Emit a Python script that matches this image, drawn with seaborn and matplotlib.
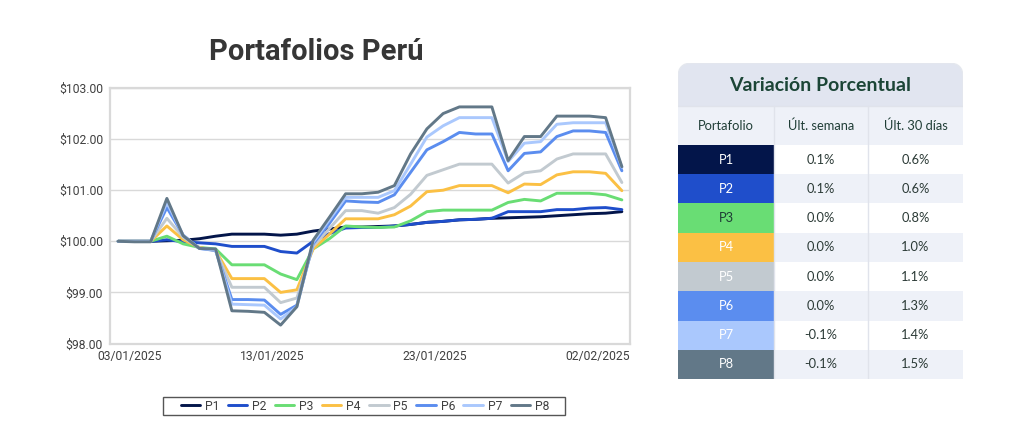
import numpy as np
import pandas as pd
import matplotlib
matplotlib.use("Agg")
import matplotlib.pyplot as plt
import matplotlib.dates as mdates
import matplotlib.transforms as mtransforms
from matplotlib.ticker import StrMethodFormatter
from matplotlib.patches import FancyBboxPatch, Rectangle
import seaborn as sns

# daily values (weekends carried forward), 03/01/2025 .. 03/02/2025
dates = pd.date_range("2025-01-03", "2025-02-03", freq="D")
portfolios = ["P1", "P2", "P3", "P4", "P5", "P6", "P7", "P8"]
colors = ["#03154a", "#1f4ecb", "#69dd74", "#fbc044", "#c2cad0", "#5b8def", "#aac8fd", "#627888"]

p1 = [100.00, 100.00, 100.00, 100.01, 100.02, 100.05, 100.10, 100.14, 100.14, 100.14, 100.12, 100.14,
      100.20, 100.24, 100.28, 100.28, 100.29, 100.30, 100.33, 100.37, 100.39, 100.42, 100.43, 100.45,
      100.46, 100.47, 100.48, 100.50, 100.52, 100.54, 100.55, 100.58]
p2 = [100.00, 100.00, 100.00, 100.03, 99.99, 99.97, 99.95, 99.90, 99.90, 99.90, 99.80, 99.77,
      100.00, 100.15, 100.26, 100.27, 100.27, 100.30, 100.33, 100.37, 100.39, 100.42, 100.43, 100.45,
      100.58, 100.58, 100.58, 100.62, 100.62, 100.65, 100.66, 100.62]
p3 = [100.00, 100.00, 100.00, 100.10, 99.95, 99.88, 99.85, 99.54, 99.54, 99.54, 99.36, 99.25,
      99.85, 100.05, 100.30, 100.28, 100.27, 100.28, 100.40, 100.58, 100.61, 100.61, 100.61, 100.61,
      100.76, 100.82, 100.79, 100.94, 100.94, 100.94, 100.91, 100.81]
p4 = [100.00, 100.00, 100.00, 100.30, 100.03, 99.88, 99.82, 99.27, 99.27, 99.27, 99.00, 99.05,
      99.85, 100.14, 100.44, 100.44, 100.44, 100.52, 100.69, 100.97, 101.00, 101.09, 101.09, 101.09,
      100.95, 101.12, 101.11, 101.30, 101.36, 101.36, 101.33, 100.99]
p5 = [100.00, 100.00, 100.00, 100.45, 100.08, 99.87, 99.82, 99.10, 99.10, 99.10, 98.80, 98.89,
      99.90, 100.25, 100.60, 100.60, 100.55, 100.66, 100.92, 101.29, 101.40, 101.51, 101.51, 101.51,
      101.14, 101.34, 101.38, 101.61, 101.71, 101.71, 101.71, 101.15]
p6 = [100.00, 100.00, 100.00, 100.66, 100.12, 99.86, 99.82, 98.86, 98.86, 98.85, 98.57, 98.75,
      99.95, 100.35, 100.79, 100.77, 100.76, 100.91, 101.35, 101.79, 101.95, 102.13, 102.10, 102.10,
      101.38, 101.72, 101.75, 102.05, 102.16, 102.16, 102.13, 101.38]
p7 = [100.00, 100.00, 100.00, 100.76, 100.12, 99.86, 99.83, 98.77, 98.76, 98.75, 98.48, 98.72,
      99.98, 100.42, 100.86, 100.86, 100.86, 100.99, 101.51, 102.04, 102.26, 102.42, 102.42, 102.42,
      101.56, 101.92, 101.95, 102.29, 102.32, 102.32, 102.32, 101.45]
p8 = [100.00, 99.99, 99.99, 100.84, 100.11, 99.86, 99.85, 98.64, 98.63, 98.61, 98.36, 98.72,
      100.02, 100.47, 100.93, 100.93, 100.96, 101.09, 101.71, 102.20, 102.50, 102.63, 102.63, 102.63,
      101.58, 102.05, 102.05, 102.45, 102.45, 102.45, 102.42, 101.46]

tick_dates = pd.to_datetime(["2025-01-03", "2025-01-13", "2025-01-23", "2025-02-02"])

# table values (%)
weekly = [0.1, 0.1, 0.0, 0.0, 0.0, 0.0, -0.1, -0.1]
monthly = [0.6, 0.6, 0.8, 1.0, 1.1, 1.3, 1.4, 1.5]
table_cols = ["Portafolio", "Últ. semana", "Últ. 30 días"]

sns.set_theme(style="white")
plt.rcParams["font.family"] = ["Roboto", "DejaVu Sans"]

df = pd.DataFrame({"Fecha": dates, "P1": p1, "P2": p2, "P3": p3, "P4": p4,
                   "P5": p5, "P6": p6, "P7": p7, "P8": p8})
df = df.melt(id_vars="Fecha", var_name="Portafolio", value_name="Valor")

fig = plt.figure(figsize=(10.24, 4.48), dpi=100)

# ---- line chart ----
ax = fig.add_axes([110 / 1024, 1 - 343.5 / 448, 520 / 1024, 255.5 / 448])
sns.lineplot(data=df, x="Fecha", y="Valor", hue="Portafolio", hue_order=portfolios,
             palette=colors, linewidth=2.1, ax=ax)
handles, labels = ax.get_legend_handles_labels()
ax.get_legend().remove()

ax.set_ylim(98, 103)
ax.set_yticks([98, 99, 100, 101, 102, 103])
ax.yaxis.set_major_formatter(StrMethodFormatter("${x:.2f}"))
ax.set_xlim(dates[0] - pd.Timedelta(hours=12), dates[-1] + pd.Timedelta(hours=12))
ax.set_xticks(tick_dates)
ax.xaxis.set_major_formatter(mdates.DateFormatter("%d/%m/%Y"))
ax.set_xlabel("")
ax.set_ylabel("")
ax.grid(axis="y", color="#d9d9d9", linewidth=1)
for s in ax.spines.values():
    s.set_color("#d9d9d9")
    s.set_linewidth(1.6)
ax.tick_params(length=0, labelsize=8.7, colors="#404040")
ax.tick_params(axis="y", pad=5)
ax.tick_params(axis="x", pad=5)

# category-style label placement: first label nudged right, the rest a half day left
for k, lab in enumerate(ax.get_xticklabels()):
    dx = 12 if k == 0 else -8
    lab.set_transform(lab.get_transform() + mtransforms.ScaledTranslation(dx / 100, 0, fig.dpi_scale_trans))

fig.text(316 / 1024, 1 - 52 / 448, "Portafolios Perú", ha="center", va="center",
         fontsize=21, fontweight="bold", color="#363636")

# legend box
fig.patches.append(Rectangle((163 / 1024, 1 - 415 / 448), 402 / 1024, 18 / 448,
                             transform=fig.transFigure, fill=False, ec="#555555", lw=1.0))
leg = fig.legend(handles, labels, ncol=8, loc="center",
                 bbox_to_anchor=(365 / 1024, 1 - 406 / 448),
                 frameon=False, fontsize=8.7, handlelength=1.6, handletextpad=0.4,
                 columnspacing=0.7, borderpad=0, borderaxespad=0)
for t in leg.get_texts():
    t.set_color("#404040")

# ---- table ----
W, H = 285, 316
tax = fig.add_axes([678 / 1024, 1 - 379 / 448, W / 1024, H / 448])
tax.set_xlim(0, W)
tax.set_ylim(H, 0)
tax.axis("off")

tfont = ["Lato", "DejaVu Sans"]
head_h, colh_h = 43, 39
row_h = (H - head_h - colh_h) / len(portfolios)
col_x = [0, 96, 190, W]
light = "#eef1f8"

tax.add_patch(FancyBboxPatch((0, 0), W, H, boxstyle="round,pad=0,rounding_size=14",
                             fc="#e1e5f0", ec="#e4e7ee", lw=1))
tax.add_patch(Rectangle((0, head_h), W, colh_h, fc=light, ec="none"))
tax.text(W / 2, head_h / 2 + 1, "Variación Porcentual", ha="center", va="center",
         fontsize=14, fontweight="bold", color="#1b4536", family=tfont)
for j, c in enumerate(table_cols):
    tax.text((col_x[j] + col_x[j + 1]) / 2, head_h + colh_h / 2, c, ha="center", va="center",
             fontsize=9.3, color="#1f3d36", family=tfont)

for i, p in enumerate(portfolios):
    y0 = head_h + colh_h + i * row_h
    bg = "white" if i % 2 == 0 else light
    tax.add_patch(Rectangle((col_x[1], y0), W - col_x[1], row_h, fc=bg, ec="none"))
    tax.add_patch(Rectangle((0, y0), col_x[1], row_h, fc=colors[i], ec="none"))
    tc = "#1f3d36" if p == "P3" else "white"
    yc = y0 + row_h / 2
    tax.text(col_x[1] / 2, yc, p, ha="center", va="center", fontsize=9.3, color=tc, family=tfont)
    tax.text((col_x[1] + col_x[2]) / 2, yc, f"{weekly[i]:.1f}%", ha="center", va="center",
             fontsize=9.3, color="#2b3a36", family=tfont)
    tax.text((col_x[2] + col_x[3]) / 2, yc, f"{monthly[i]:.1f}%", ha="center", va="center",
             fontsize=9.3, color="#2b3a36", family=tfont)

for xv in col_x[1:3]:
    tax.plot([xv, xv], [head_h, H], color="#e0e3eb", lw=1)
tax.plot([0, W], [head_h, head_h], color="#e0e3eb", lw=1)

fig.savefig("out.png", dpi=100)
